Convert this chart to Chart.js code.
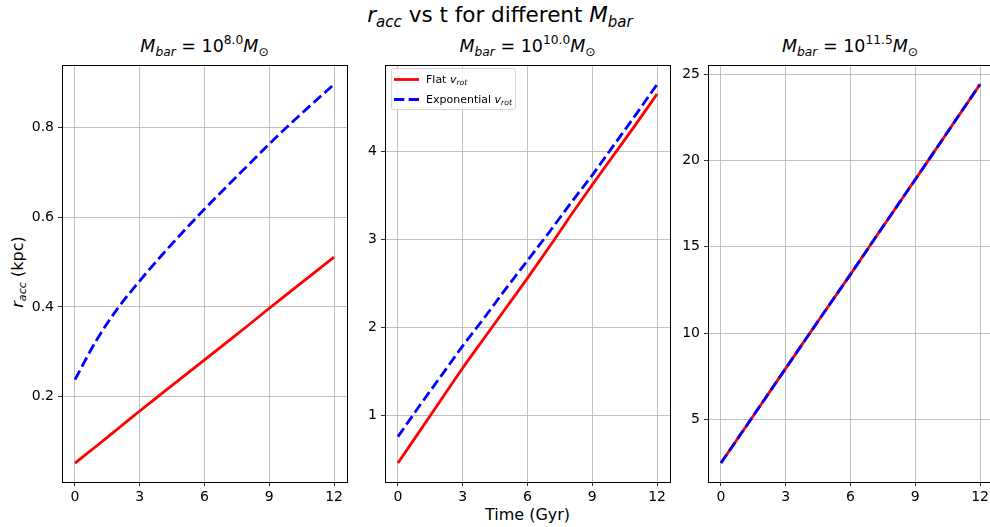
<!DOCTYPE html>
<html>
<head>
<meta charset="utf-8">
<script src="https://cdn.jsdelivr.net/npm/chart.js@4.4.1/dist/chart.umd.min.js"></script>
<style>
	body {
		margin: 0;
		width: 990px;
		height: 527px;
		overflow: hidden;
		background: #fff;
		position: relative;
		font-family: "DejaVu Sans", sans-serif;
	}
	canvas {
		position: absolute;
	}
	.txt {
		position: absolute;
		white-space: nowrap;
		color: #000;
		line-height: 1;
		transform: translateX(-50%);
	}
	.txt sub,
	.txt sup {
		font-size: 70%;
		line-height: 0;
		position: relative;
		vertical-align: baseline;
	}
	.txt sub { top: 0.3em; }
	.txt sup { top: -0.62em; }
	#legend {
		position: absolute;
		left: 391px;
		top: 68px;
		width: 123px;
		height: 40px;
		border: 1px solid #d5d5d5;
		border-radius: 3px;
		background: rgba(255, 255, 255, 0.85);
		font-size: 11px;
	}
	#legend svg {
		position: absolute;
		left: 0;
		top: 0;
	}
	#legend .row {
		position: absolute;
		left: 34px;
		white-space: nowrap;
		line-height: 1;
	}
	#legend sub {
		font-size: 70%;
		line-height: 0;
		position: relative;
		top: 0.3em;
		vertical-align: baseline;
	}
</style>
</head>
<body>
<div class="txt" style="left:500px; top:4px; font-size:21.5px;"><i>r</i><sub><i>acc</i></sub> vs t for different <i>M</i><sub><i>bar</i></sub></div>

<div class="txt" style="left:204.5px; top:38px; font-size:17.5px;"><i>M</i><sub><i>bar</i></sub> = 10<sup>8.0</sup><i>M</i><sub>⊙</sub></div>
<div class="txt" style="left:527.5px; top:38px; font-size:17.5px;"><i>M</i><sub><i>bar</i></sub> = 10<sup>10.0</sup><i>M</i><sub>⊙</sub></div>
<div class="txt" style="left:850px; top:38px; font-size:17.5px;"><i>M</i><sub><i>bar</i></sub> = 10<sup>11.5</sup><i>M</i><sub>⊙</sub></div>

<div class="txt" style="left:527.5px; top:506.5px; font-size:16px;">Time (Gyr)</div>
<div class="txt" style="left:17.5px; top:272px; font-size:16px; transform: translate(-50%, -50%) rotate(-90deg);"><i>r</i><sub><i>acc</i></sub> (kpc)</div>

<canvas id="c1" width="348" height="459"></canvas>
<canvas id="c2" width="348" height="459"></canvas>
<canvas id="c3" width="348" height="459"></canvas>

<div id="legend">
	<svg width="123" height="40">
		<line x1="2" y1="10.5" x2="27" y2="10.5" stroke="#ff0000" stroke-width="2.8" />
		<line x1="2" y1="30.5" x2="27" y2="30.5" stroke="#0000ff" stroke-width="2.8" stroke-dasharray="10.3 4.4" />
	</svg>
	<div class="row" style="top:5px;">Flat <i>v</i><sub><i>rot</i></sub></div>
	<div class="row" style="top:25px;">Exponential <i>v</i><sub><i>rot</i></sub></div>
</div>

<script>
// time axis (Gyr)
const timeGyr = [0, 1, 2, 3, 4, 5, 6, 7, 8, 9, 10, 11, 12];

// M_bar = 10^8.0
const flat8 = [0.052, 0.09, 0.129, 0.168, 0.206, 0.244, 0.282, 0.32, 0.358, 0.397, 0.435, 0.473, 0.511];
const exp8 = [0.238, 0.326, 0.398, 0.458, 0.514, 0.567, 0.618, 0.667, 0.715, 0.763, 0.809, 0.853, 0.896];

// M_bar = 10^10.0
const flat10 = [0.46, 0.82, 1.18, 1.54, 1.88, 2.22, 2.56, 2.91, 3.27, 3.62, 3.96, 4.3, 4.65];
const exp10 = [0.76, 1.11, 1.45, 1.79, 2.11, 2.44, 2.76, 3.08, 3.41, 3.73, 4.07, 4.41, 4.76];

// M_bar = 10^11.5
const flat115 = [2.46, 4.29, 6.12, 7.95, 9.78, 11.6, 13.4, 15.25, 17.08, 18.9, 20.74, 22.58, 24.42];
const exp115 = [2.46, 4.29, 6.12, 7.95, 9.78, 11.6, 13.4, 15.25, 17.08, 18.9, 20.74, 22.58, 24.42];

// tick labels
const xTicks = [0, 3, 6, 9, 12];
const yTicks8 = [0.2, 0.4, 0.6, 0.8];
const yTicks10 = [1, 2, 3, 4];
const yTicks115 = [5, 10, 15, 20, 25];

// plot boxes (left edge of each axes in page px)
const axesLeft = [62, 385, 708];
const axesTop = 63;
const yAxisW = 55;
const padTop = 10;
const padRight = 8;

const framePlugin = {
	id: "frame",
	afterDatasetsDraw(chart) {
		const a = chart.chartArea;
		const c = chart.ctx;
		c.save();
		c.strokeStyle = "#000";
		c.lineWidth = 1;
		c.strokeRect(Math.round(a.left) + 0.5, Math.round(a.top) + 0.5, Math.round(a.right - a.left), Math.round(a.bottom - a.top));
		c.restore();
	},
};

function toPoints(ys) {
	return timeGyr.map((t, i) => ({ x: t, y: ys[i] }));
}

function makePanel(id, idx, flat, expo, yTicks) {
	const canvas = document.getElementById(id);
	canvas.style.left = axesLeft[idx] - yAxisW + "px";
	canvas.style.top = axesTop - padTop + "px";

	// matplotlib-like 5% margins
	const all = flat.concat(expo);
	const lo = Math.min(...all);
	const hi = Math.max(...all);
	const m = (hi - lo) * 0.05;

	return new Chart(canvas, {
		type: "line",
		data: {
			datasets: [
				{
					label: "Exponential",
					data: toPoints(expo),
					borderColor: "#0000ff",
					borderWidth: 2.8,
					borderDash: [10.3, 4.4],
					pointRadius: 0,
					cubicInterpolationMode: "monotone",
					order: 0,
				},
				{
					label: "Flat",
					data: toPoints(flat),
					borderColor: "#ff0000",
					borderWidth: 2.8,
					pointRadius: 0,
					cubicInterpolationMode: "monotone",
					order: 1,
				},
			],
		},
		options: {
			responsive: false,
			animation: false,
			devicePixelRatio: 1,
			layout: { padding: { top: padTop, right: padRight, left: 0, bottom: 0 } },
			plugins: { legend: { display: false }, tooltip: { enabled: false } },
			scales: {
				x: {
					type: "linear",
					min: -0.6,
					max: 12.6,
					afterBuildTicks: (s) => {
						s.ticks = xTicks.map((v) => ({ value: v }));
					},
					afterFit: (s) => {
						s.height = 30;
					},
					grid: { color: "#b0b0b0", lineWidth: 0.8, tickColor: "#000", tickLength: 4, drawTicks: true },
					border: { display: true, color: "#000", width: 1 },
					ticks: {
						color: "#000",
						padding: 3,
						maxRotation: 0,
						font: { family: "DejaVu Sans", size: 14 },
						callback: (v) => String(v),
					},
				},
				y: {
					type: "linear",
					min: lo - m,
					max: hi + m,
					afterBuildTicks: (s) => {
						s.ticks = yTicks.map((v) => ({ value: v }));
					},
					afterFit: (s) => {
						s.width = yAxisW;
					},
					grid: { color: "#b0b0b0", lineWidth: 0.8, tickColor: "#000", tickLength: 4, drawTicks: true },
					border: { display: true, color: "#000", width: 1 },
					ticks: {
						color: "#000",
						padding: 4,
						font: { family: "DejaVu Sans", size: 14 },
						callback: (v) => String(v),
					},
				},
			},
		},
		plugins: [framePlugin],
	});
}

makePanel("c1", 0, flat8, exp8, yTicks8);
makePanel("c2", 1, flat10, exp10, yTicks10);
makePanel("c3", 2, flat115, exp115, yTicks115);
</script>
</body>
</html>
